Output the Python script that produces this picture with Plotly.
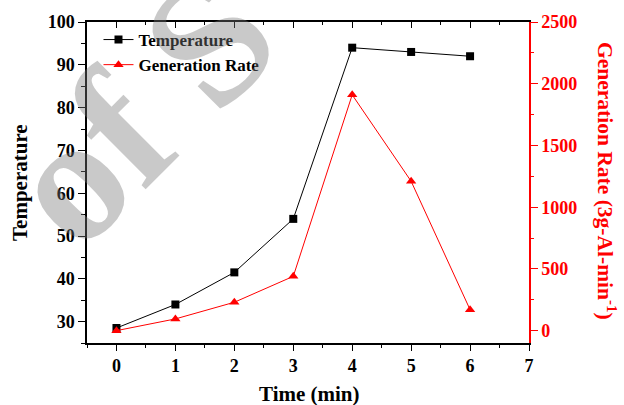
import plotly.graph_objects as go

# ---- data ----
time_min = [0, 1, 2, 3, 4, 5, 6]
temperature = [28.5, 34, 41.5, 54, 94, 93, 92]
generation_rate = [0, 95, 230, 440, 1910, 1210, 170]

x_ticks = [0, 1, 2, 3, 4, 5, 6, 7]
x_minor = [-0.5, 0.5, 1.5, 2.5, 3.5, 4.5, 5.5, 6.5]
y_ticks = [30, 40, 50, 60, 70, 80, 90, 100]
y_minor = [25, 35, 45, 55, 65, 75, 85, 95]
y2_ticks = [0, 500, 1000, 1500, 2000, 2500]
y2_minor = [250, 750, 1250, 1750, 2250]

FONT = "Liberation Serif"
RED = "#ff0000"


def bold(vals):
    return ["<b>%s</b>" % v for v in vals]


fig = go.Figure()
fig.add_trace(go.Scatter(
    x=time_min, y=temperature, name="Temperature", mode="lines+markers",
    line=dict(color="black", width=1),
    marker=dict(symbol="square", size=8, color="black"),
    xaxis="x", yaxis="y"))
fig.add_trace(go.Scatter(
    x=time_min, y=generation_rate, name="Generation Rate", mode="lines+markers",
    line=dict(color=RED, width=1),
    marker=dict(symbol="triangle-up", size=9, color=RED),
    xaxis="x", yaxis="y2"))
# invisible trace for the top mirror axis
fig.add_trace(go.Scatter(x=[x_ticks[0]], y=[y_ticks[0]], mode="markers",
                         marker=dict(opacity=0), showlegend=False,
                         hoverinfo="skip", xaxis="x2", yaxis="y"))

tickfont = dict(family=FONT, size=18, color="black")

fig.update_layout(
    width=624, height=405,
    margin=dict(l=87, r=95, t=14, b=62),
    paper_bgcolor="white", plot_bgcolor="rgba(0,0,0,0)",
    font=dict(family=FONT),
    showlegend=True,
    legend=dict(x=0.026, y=1.0, xanchor="left", yanchor="top",
                bgcolor="rgba(0,0,0,0)",
                font=dict(family=FONT, size=17, color="black", weight="bold")),
    xaxis=dict(range=[-0.5, 7], tickvals=x_ticks, ticktext=bold(x_ticks),
               ticks="outside", ticklen=6,
               tickwidth=1.3, tickcolor="black", showline=True, linecolor="black",
               linewidth=1.5, showgrid=False, zeroline=False, tickfont=tickfont,
               minor=dict(tickvals=x_minor, ticks="outside", ticklen=3.5,
                          tickwidth=1.3, tickcolor="black")),
    xaxis2=dict(range=[-0.5, 7], overlaying="x", side="top", tickvals=x_ticks,
                ticks="inside", ticklen=6, tickwidth=1.3, tickcolor="black",
                showline=True, linecolor="black", linewidth=1.5,
                showgrid=False, zeroline=False, showticklabels=False,
                minor=dict(tickvals=x_minor, ticks="inside", ticklen=3.5,
                           tickwidth=1.3, tickcolor="black")),
    yaxis=dict(range=[25, 100], tickvals=y_ticks, ticktext=bold(y_ticks),
               ticks="outside", ticklen=7,
               tickwidth=1.3, tickcolor="black", showline=True, linecolor="black",
               linewidth=1.5, showgrid=False, zeroline=False, tickfont=tickfont,
               minor=dict(tickvals=y_minor, ticks="outside", ticklen=4,
                          tickwidth=1.3, tickcolor="black")),
    yaxis2=dict(range=[-100, 2500], overlaying="y", side="right",
                tickvals=y2_ticks, ticktext=bold(y2_ticks),
                ticks="outside", ticklen=7, tickwidth=1.3, tickcolor=RED,
                showline=True, linecolor=RED, linewidth=1.5, showgrid=False,
                zeroline=False,
                tickfont=dict(family=FONT, size=18, color=RED),
                minor=dict(tickvals=y2_minor, ticks="outside", ticklen=3.5,
                           tickwidth=1.3, tickcolor=RED)),
)

# watermark (semi-transparent so the lines beneath stay visible)
fig.add_annotation(text="<b>of S</b>", xref="paper", yref="paper",
                   x=(140 - 87) / 442, y=(343 - 104) / 329, textangle=-45,
                   xanchor="center", yanchor="middle", showarrow=False,
                   font=dict(family=FONT, size=180, color="rgba(120,120,120,0.4)"))

# axis titles as annotations
fig.add_annotation(text="<b>Time (min)</b>", xref="paper", yref="paper",
                   x=(309 - 87) / 442, y=(343 - 395) / 329,
                   xanchor="center", yanchor="middle", showarrow=False,
                   font=dict(family=FONT, size=21, color="black"))
fig.add_annotation(text="<b>Temperature</b>", xref="paper", yref="paper",
                   x=(19.5 - 87) / 442, y=0.5, textangle=-90,
                   xanchor="center", yanchor="middle", showarrow=False,
                   font=dict(family=FONT, size=21, color="black"))
fig.add_annotation(text="<b>Generation Rate (3g-Al-min<sup>-1</sup>)</b>",
                   xref="paper", yref="paper",
                   x=(607 - 87) / 442, y=(343 - 177) / 329, textangle=90,
                   xanchor="center", yanchor="middle", showarrow=False,
                   font=dict(family=FONT, size=21.5, color=RED))

fig.write_html("out.html")
